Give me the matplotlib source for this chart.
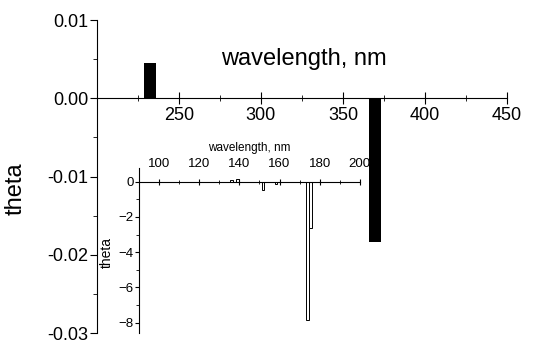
import matplotlib
matplotlib.use("Agg")
import matplotlib.pyplot as plt
from matplotlib.ticker import MultipleLocator

plt.rcParams['font.family'] = ['Liberation Sans', 'DejaVu Sans']

# main spectrum
main_wl = [232.5, 369.5]
main_theta = [0.0045, -0.0183]
main_width = 7.5

# inset spectrum
inset_wl = [136.0, 139.0, 151.7, 158.3, 174.0, 175.4]
inset_theta = [0.1, 0.15, -0.47, -0.1, -7.87, -2.6]
inset_width = 1.2

fig = plt.figure(figsize=(5.44, 3.45), dpi=100)

ax = fig.add_axes([0.178, 0.034, 0.754, 0.908])
ax.bar(main_wl, main_theta, width=main_width, color='black')
ax.set_xlim(200, 450)
ax.set_ylim(-0.03, 0.01)
ax.spines['top'].set_visible(False)
ax.spines['right'].set_visible(False)
ax.spines['bottom'].set_position(('data', 0))
ax.xaxis.set_major_locator(MultipleLocator(50))
ax.xaxis.set_minor_locator(MultipleLocator(25))
ax.yaxis.set_major_locator(MultipleLocator(0.01))
ax.yaxis.set_minor_locator(MultipleLocator(0.005))
ax.set_xticks([250, 300, 350, 400, 450])
ax.tick_params(axis='x', which='major', direction='inout', length=8, labelsize=13, pad=2)
ax.tick_params(axis='x', which='minor', direction='inout', length=5)
ax.tick_params(axis='y', which='major', direction='out', length=5, labelsize=13, pad=1)
ax.tick_params(axis='y', which='minor', direction='out', length=3)
ax.yaxis.set_major_formatter(plt.FuncFormatter(lambda v, p: f"{v:.2f}".replace("-0.00", "0.00")))
ax.set_xlabel('wavelength, nm', fontsize=17)
ax.xaxis.set_label_coords(0.504, 0.875)
ax.xaxis.label.set_va('center')
ax.set_ylabel('theta', fontsize=17)
ax.yaxis.set_label_coords(-0.171, 0.46)

ins = fig.add_axes([0.2555, 0.034, 0.406, 0.48])
ins.bar(inset_wl, inset_theta, width=inset_width, facecolor='white', edgecolor='black', linewidth=0.7)
ins.set_xlim(90, 200)
ins.set_ylim(-8.6, 0.8)
ins.patch.set_alpha(0)
ins.spines['right'].set_visible(False)
ins.spines['bottom'].set_visible(False)
ins.spines['top'].set_position(('data', 0))
ins.xaxis.set_ticks_position('top')
ins.xaxis.set_label_position('top')
ins.xaxis.set_major_locator(MultipleLocator(20))
ins.xaxis.set_minor_locator(MultipleLocator(10))
ins.set_xticks([100, 120, 140, 160, 180, 200])
ins.yaxis.set_major_locator(MultipleLocator(2))
ins.yaxis.set_minor_locator(MultipleLocator(1))
ins.set_yticks([0, -2, -4, -6, -8])
ins.tick_params(axis='x', which='major', direction='inout', length=5, labelsize=9.5, pad=6)
ins.tick_params(axis='x', which='minor', direction='inout', length=3)
ins.tick_params(axis='y', which='major', direction='out', length=3, labelsize=9.5, pad=1)
ins.tick_params(axis='y', which='minor', direction='out', length=2)
ins.set_xlabel('wavelength, nm', fontsize=8.5, labelpad=5)
ins.set_ylabel('theta', fontsize=10)
ins.yaxis.set_label_coords(-0.113, 0.49)

fig.savefig('out.png', dpi=100)
